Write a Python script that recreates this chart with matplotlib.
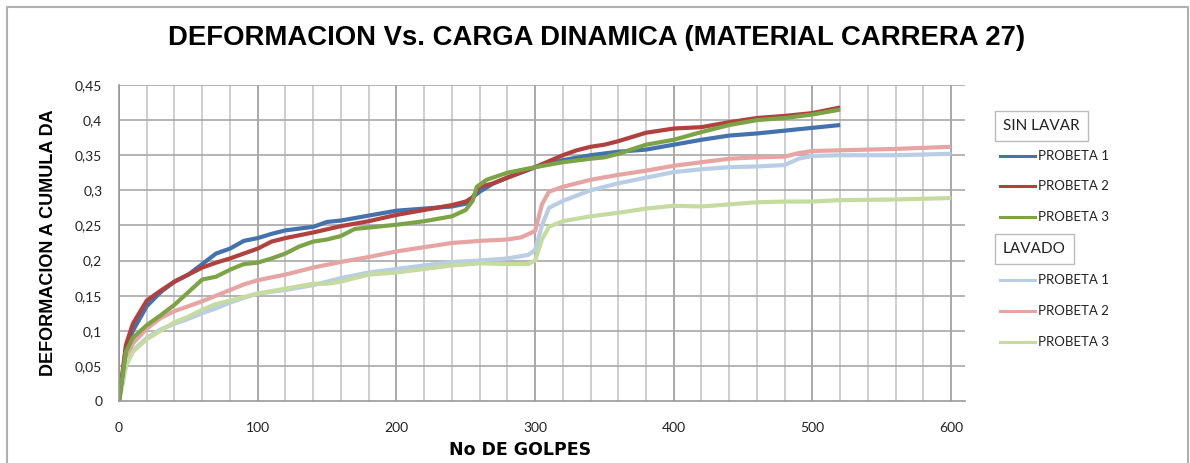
import numpy as np
import matplotlib.pyplot as plt
from matplotlib.lines import Line2D

plt.rcParams['font.family'] = ['Lato', 'DejaVu Sans']

# --- datos ---
x_sl1 = [0, 5, 10, 20, 30, 40, 50, 60, 70, 80, 90, 100, 110, 120, 140, 150, 160, 180, 200, 220, 240, 250, 255, 260, 270,
         280, 300, 320, 340, 360, 380, 400, 420, 440, 460, 480, 500, 520]
y_sl1 = [0, 0.075, 0.1, 0.135, 0.155, 0.17, 0.18, 0.195, 0.21, 0.217, 0.228, 0.232, 0.238, 0.243, 0.248, 0.255, 0.257,
         0.264, 0.271, 0.274, 0.277, 0.281, 0.29, 0.298, 0.31, 0.318, 0.333, 0.343, 0.35, 0.355, 0.358, 0.365, 0.372,
         0.378, 0.381, 0.385, 0.389, 0.393]

x_sl2 = [0, 5, 10, 20, 30, 40, 50, 60, 70, 80, 90, 100, 110, 120, 140, 160, 180, 200, 220, 240, 250, 255, 260, 270, 280,
         300, 320, 330, 340, 350, 360, 380, 400, 420, 440, 460, 480, 500, 520]
y_sl2 = [0, 0.08, 0.11, 0.143, 0.157, 0.17, 0.18, 0.19, 0.197, 0.203, 0.21, 0.217, 0.227, 0.232, 0.24, 0.249, 0.256,
         0.265, 0.272, 0.279, 0.284, 0.29, 0.305, 0.31, 0.318, 0.333, 0.35, 0.357, 0.362, 0.365, 0.37, 0.382, 0.388,
         0.39, 0.397, 0.403, 0.406, 0.41, 0.418]

x_sl3 = [0, 5, 10, 20, 30, 40, 50, 60, 70, 80, 90, 100, 110, 120, 130, 140, 150, 160, 170, 180, 200, 220, 240, 250, 255,
         258, 265, 280, 300, 320, 340, 350, 360, 380, 400, 420, 440, 460, 480, 500, 520]
y_sl3 = [0, 0.07, 0.09, 0.108, 0.122, 0.137, 0.155, 0.173, 0.177, 0.187, 0.195, 0.197, 0.203, 0.21, 0.22, 0.227, 0.23,
         0.235, 0.245, 0.247, 0.251, 0.256, 0.263, 0.272, 0.285, 0.305, 0.315, 0.325, 0.333, 0.34, 0.345, 0.347, 0.352,
         0.365, 0.372, 0.383, 0.393, 0.4, 0.403, 0.408, 0.415]

x_la1 = [0, 5, 10, 20, 30, 40, 50, 60, 70, 80, 90, 100, 120, 140, 160, 180, 200, 220, 240, 260, 280, 295, 300, 305, 310,
         320, 340, 360, 380, 400, 420, 440, 460, 480, 490, 500, 520, 560, 600]
y_la1 = [0, 0.05, 0.072, 0.09, 0.102, 0.11, 0.117, 0.125, 0.132, 0.14, 0.147, 0.153, 0.158, 0.165, 0.175, 0.183, 0.188,
         0.193, 0.198, 0.2, 0.203, 0.208, 0.215, 0.25, 0.275, 0.285, 0.3, 0.31, 0.318, 0.326, 0.33, 0.333, 0.334, 0.336,
         0.345, 0.349, 0.35, 0.35, 0.352]

x_la2 = [0, 5, 10, 20, 30, 40, 50, 60, 70, 80, 90, 100, 120, 140, 160, 180, 200, 220, 240, 260, 280, 290, 300, 305, 310,
         320, 340, 360, 380, 400, 420, 440, 460, 480, 490, 500, 520, 560, 600]
y_la2 = [0, 0.06, 0.082, 0.103, 0.118, 0.128, 0.135, 0.142, 0.15, 0.158, 0.166, 0.172, 0.18, 0.19, 0.198, 0.205, 0.213,
         0.219, 0.225, 0.228, 0.23, 0.233, 0.242, 0.28, 0.298, 0.305, 0.315, 0.322, 0.328, 0.335, 0.34, 0.345, 0.347,
         0.348, 0.353, 0.356, 0.357, 0.359, 0.362]

x_la3 = [0, 5, 10, 20, 30, 40, 50, 60, 70, 80, 90, 100, 120, 140, 150, 160, 180, 200, 220, 240, 260, 280, 295, 300, 305,
         310, 320, 340, 360, 380, 400, 420, 440, 460, 480, 500, 520, 560, 600]
y_la3 = [0, 0.05, 0.07, 0.088, 0.1, 0.112, 0.12, 0.13, 0.138, 0.143, 0.148, 0.153, 0.16, 0.167, 0.167, 0.17, 0.18, 0.183,
         0.188, 0.193, 0.196, 0.195, 0.195, 0.2, 0.23, 0.248, 0.256, 0.263, 0.268, 0.274, 0.278, 0.277, 0.28, 0.283,
         0.284, 0.284, 0.286, 0.287, 0.289]

etiquetas = ['PROBETA 1', 'PROBETA 2', 'PROBETA 3']
c_sin = ['#4472AD', '#B0413E', '#7CA345']
c_lav = ['#B9CDE5', '#E6A4A3', '#C5DBA0']

fig = plt.figure(figsize=(11.9, 4.63), dpi=100)
ax = fig.add_axes([119/1190, 1-401/463, (965-119)/1190, 316/463])

# lineas de division
for xv in np.arange(0, 601, 20):
    mayor = xv % 100 == 0
    ax.axvline(xv, color='#999999' if mayor else '#c6c6c6', lw=1.2, zorder=0)
for yv in np.arange(0.05, 0.451, 0.05):
    ax.axhline(yv, color='#a8a8a8', lw=1.2, zorder=0)

datos_sin = [(x_sl1, y_sl1), (x_sl2, y_sl2), (x_sl3, y_sl3)]
datos_lav = [(x_la1, y_la1), (x_la2, y_la2), (x_la3, y_la3)]
for (xs, ys), c in zip(datos_lav, c_lav):
    ax.plot(xs, ys, color=c, lw=3, solid_capstyle='butt', solid_joinstyle='round')
for (xs, ys), c in zip(datos_sin, c_sin):
    ax.plot(xs, ys, color=c, lw=3, solid_capstyle='butt', solid_joinstyle='round')

ax.set_xlim(0, 610)
ax.set_ylim(0, 0.45)
ax.set_xticks(np.arange(0, 601, 100))
ax.set_yticks(np.arange(0, 0.451, 0.05))
ax.set_yticklabels(['0' if v == 0 else ('%g' % round(v, 2)).replace('.', ',') for v in np.arange(0, 0.451, 0.05)])
ax.tick_params(length=0, labelsize=10, colors='#222222', pad=12)
ax.tick_params(axis='x', pad=15)
for s in ['top', 'right']:
    ax.spines[s].set_visible(False)
for s in ['left', 'bottom']:
    ax.spines[s].set_color('#999999')
    ax.spines[s].set_linewidth(1.2)

ax.set_xlabel('No DE GOLPES', fontsize=12.5, fontweight='bold', family='Liberation Sans Narrow')
ax.xaxis.set_label_coords((520-119)/(965-119), -(441-401)/316)
ax.set_ylabel('DEFORMACION A CUMULA DA', fontsize=13, fontweight='bold', family='Liberation Sans')
ax.yaxis.set_label_coords(-(119-57)/(965-119), 0.5)
fig.text(597/1190, 1-38/463, 'DEFORMACION Vs. CARGA DINAMICA (MATERIAL CARRERA 27)',
         ha='center', va='center', fontsize=19.8, fontweight='bold', family='Liberation Sans')

# leyenda hecha a mano
def caja(texto, y):
    fig.text(1003/1190, 1-y/463, texto, ha='left', va='center', fontsize=11, color='#222222',
             bbox=dict(boxstyle='square,pad=0.55', fc='white', ec='#bbbbbb', lw=1))

def entrada(color, texto, y):
    yy = 1 - y/463
    fig.add_artist(Line2D([1000/1190, 1035/1190], [yy, yy], color=color, lw=2.2))
    fig.text(1038/1190, yy, texto, ha='left', va='center', fontsize=9.5, color='#222222')

caja('SIN LAVAR', 126)
for c, t, y in zip(c_sin, etiquetas, [156, 186, 217]):
    entrada(c, t, y)
caja('LAVADO', 249)
for c, t, y in zip(c_lav, etiquetas, [280, 311, 342]):
    entrada(c, t, y)

# marco exterior
fig.add_artist(Line2D([7/1190, 7/1190, 1188/1190, 1188/1190], [0, 1-7/463, 1-7/463, 0],
                      color='#b0b0b0', lw=1.5))

fig.savefig('out.png', dpi=100)
